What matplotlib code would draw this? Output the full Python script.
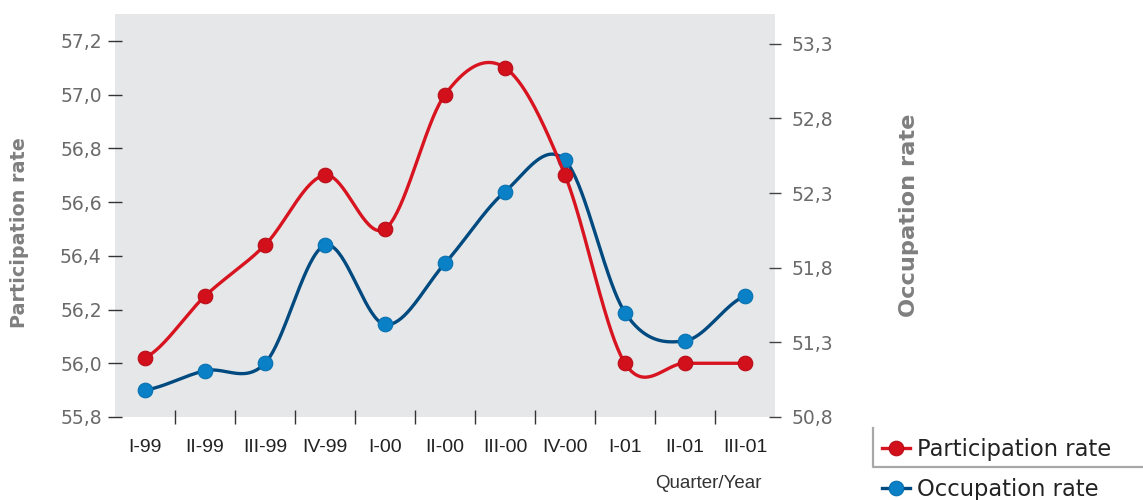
import numpy as np
import matplotlib
matplotlib.use("Agg")
import matplotlib.pyplot as plt
from matplotlib.lines import Line2D

# Quarterly labour-market rates
quarters = ["I-99", "II-99", "III-99", "IV-99", "I-00", "II-00",
            "III-00", "IV-00", "I-01", "II-01", "III-01"]
participation = [56.02, 56.25, 56.44, 56.70, 56.50, 57.00,
                 57.10, 56.70, 56.00, 56.00, 56.00]
occupation = [50.98, 51.11, 51.16, 51.95, 51.42, 51.83,
              52.31, 52.52, 51.50, 51.31, 51.61]

left_ticks = [55.8, 56.0, 56.2, 56.4, 56.6, 56.8, 57.0, 57.2]
right_ticks = [50.8, 51.3, 51.8, 52.3, 52.8, 53.3]

RED_LINE = "#d7141f"
RED_DOT = "#d2101c"
BLUE_LINE = "#004a80"
BLUE_DOT = "#0a80c6"
BG = "#e6e7e9"
TICK_TXT = "#6a6a6a"
AXIS_TITLE = "#7f7f7f"
NARROW = ["Liberation Sans Narrow", "Liberation Sans"]


def catmull_rom(y, samples=40):
    """Smooth curve through every point (Catmull-Rom / cardinal spline)."""
    y = np.asarray(y, dtype=float)
    n = len(y)
    x = np.arange(n, dtype=float)
    m = np.empty(n)
    m[1:-1] = (y[2:] - y[:-2]) / 2.0
    m[0] = (y[1] - y[0]) / 2.0
    m[-1] = (y[-1] - y[-2]) / 2.0
    xs, ys = [], []
    t = np.linspace(0, 1, samples, endpoint=False)
    h00 = 2 * t**3 - 3 * t**2 + 1
    h10 = t**3 - 2 * t**2 + t
    h01 = -2 * t**3 + 3 * t**2
    h11 = t**3 - t**2
    for i in range(n - 1):
        xs.append(x[i] + t)
        ys.append(h00 * y[i] + h10 * m[i] + h01 * y[i + 1] + h11 * m[i + 1])
    xs.append([x[-1]])
    ys.append([y[-1]])
    return np.concatenate(xs), np.concatenate(ys)


fig = plt.figure(figsize=(11.43, 5.0), dpi=100)
ax = fig.add_axes([115 / 1143, 1 - 417 / 500, 660 / 1143, 403 / 500])
ax2 = ax.twinx()

# right-hand axis sits underneath and carries the grey background
ax.set_zorder(2)
ax2.set_zorder(1)
ax.patch.set_visible(False)
ax2.patch.set_visible(True)
ax2.patch.set_facecolor(BG)

for a in (ax, ax2):
    for s in a.spines.values():
        s.set_visible(False)

xpos = np.arange(len(quarters))

# Occupation rate (right axis)
cx, cy = catmull_rom(occupation)
ax2.plot(cx, cy, color=BLUE_LINE, lw=2.4, solid_capstyle="round", zorder=2)
ax2.plot(xpos, occupation, ls="none", marker="o", ms=10.5,
         mfc=BLUE_DOT, mec="#0670b0", mew=0.8, zorder=3)

# Participation rate (left axis)
px, py = catmull_rom(participation)
ax.plot(px, py, color=RED_LINE, lw=2.4, solid_capstyle="round", zorder=2)
ax.plot(xpos, participation, ls="none", marker="o", ms=10.5,
        mfc=RED_DOT, mec="#b80c17", mew=0.8, zorder=3)

ax.set_xlim(-0.5, 10.5)
ax.set_ylim(55.8, 57.3)
ax2.set_ylim(50.8, 53.5)

ax.set_xticks(xpos)
ax.set_xticklabels(quarters, family=NARROW, fontsize=14, color="#222222")
ax.set_xticks(xpos[:-1] + 0.5, minor=True)
ax.tick_params(axis="x", which="major", length=0, pad=15.5)
ax.tick_params(axis="x", which="minor", direction="inout", length=9.5,
               width=1, color="#333333")

ax.set_yticks(left_ticks)
ax.set_yticklabels([f"{v:.1f}".replace(".", ",") for v in left_ticks])
ax.tick_params(axis="y", direction="inout", length=10, width=1,
               color="#333333", labelsize=13.5, labelcolor=TICK_TXT, pad=4.5)

ax2.set_yticks(right_ticks)
ax2.set_yticklabels([f"{v:.1f}".replace(".", ",") for v in right_ticks])
ax2.tick_params(axis="y", direction="inout", length=8, width=1,
                color="#444444", labelsize=13.5, labelcolor=TICK_TXT, pad=8)

# axis titles
fig.text(20 / 1143, 1 - 233 / 500, "Participation rate", rotation=90,
         ha="center", va="center", fontsize=13.8, fontweight="bold",
         color=AXIS_TITLE)
fig.text(909 / 1143, 1 - 215 / 500, "Occupation rate", rotation=90,
         ha="center", va="center", fontsize=16.2, fontweight="bold",
         color=AXIS_TITLE)
fig.text(708 / 1143, 1 - 484 / 500, "Quarter/Year", ha="center", va="center",
         family=NARROW, fontsize=13.5, color="#333333")

# legend with an L-shaped rule
handles = [
    Line2D([], [], color=RED_LINE, lw=2.4, marker="o", ms=10.5,
           mfc=RED_DOT, mec="#b80c17", mew=0.8),
    Line2D([], [], color=BLUE_LINE, lw=2.4, marker="o", ms=10.5,
           mfc=BLUE_DOT, mec="#0670b0", mew=0.8),
]
fig.legend(handles, ["Participation rate", "Occupation rate"],
           loc="center left", bbox_to_anchor=(882 / 1143, 1 - 469.5 / 500),
           frameon=False, fontsize=16.3, labelcolor="#222222",
           handlelength=1.25, handletextpad=0.3, labelspacing=0.72,
           borderpad=0, borderaxespad=0)
fig.add_artist(Line2D([873 / 1143, 873 / 1143, 1.0],
                      [1 - 428 / 500, 1 - 467 / 500, 1 - 467 / 500],
                      transform=fig.transFigure, color="#a8a8a8", lw=1.6))

fig.savefig("out.png", dpi=100)
